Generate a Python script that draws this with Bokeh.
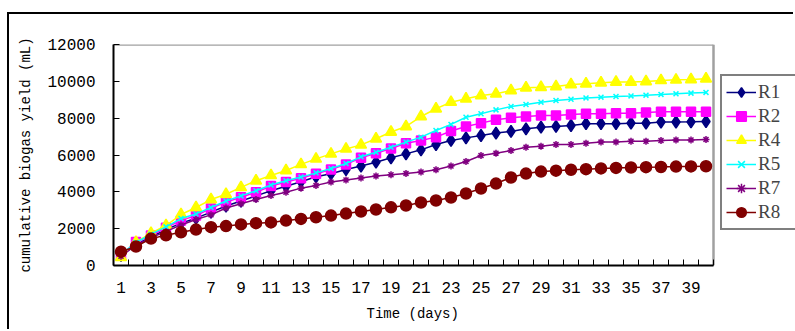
from bokeh.plotting import figure
from bokeh.models import FixedTicker, Legend, LegendItem, Range1d, Title
from bokeh.embed import file_html
from bokeh.resources import INLINE

days = list(range(1, 41))
x_tick_labels = list(range(1, 40, 2))
y_ticks = [0, 2000, 4000, 6000, 8000, 10000, 12000]

R1 = [550, 1150, 1550, 1950, 2300, 2570, 2900, 3230, 3500, 3780, 4060, 4300, 4550, 4820, 4980, 5210, 5400, 5610, 5850, 6060,
      6280, 6570, 6790, 6930, 7060, 7190, 7280, 7420, 7510, 7550, 7600, 7700, 7700, 7700, 7730, 7730, 7790, 7790, 7800, 7820]
R2 = [550, 1270, 1630, 2050, 2450, 2710, 3100, 3440, 3710, 3980, 4310, 4530, 4740, 4980, 5210, 5490, 5850, 6100, 6350, 6640,
      6790, 6970, 7300, 7550, 7730, 7910, 8020, 8090, 8150, 8150, 8200, 8240, 8240, 8270, 8270, 8310, 8350, 8350, 8350, 8350]
R4 = [450, 1270, 1750, 2170, 2770, 3150, 3580, 3870, 4240, 4600, 4890, 5160, 5490, 5790, 6060, 6330, 6550, 6880, 7250, 7550,
      8090, 8510, 8870, 9050, 9230, 9320, 9500, 9650, 9680, 9720, 9830, 9870, 9920, 9960, 9960, 9990, 10050, 10080, 10100, 10140]
R5 = [600, 1250, 1700, 2100, 2550, 2800, 3150, 3500, 3780, 4060, 4370, 4600, 4800, 5030, 5270, 5540, 5900, 6150, 6420, 6700,
      6970, 7330, 7660, 8050, 8240, 8450, 8630, 8740, 8870, 8960, 9030, 9100, 9140, 9180, 9210, 9250, 9290, 9320, 9360, 9400]
R7 = [500, 1100, 1500, 1850, 2200, 2500, 2750, 3120, 3350, 3580, 3800, 3980, 4200, 4350, 4530, 4640, 4750, 4860, 4930, 5000,
      5080, 5200, 5400, 5650, 5970, 6100, 6240, 6420, 6480, 6570, 6570, 6640, 6700, 6700, 6750, 6750, 6790, 6820, 6820, 6840]
R8 = [750, 1030, 1460, 1640, 1800, 1950, 2080, 2140, 2230, 2300, 2340, 2440, 2530, 2620, 2710, 2820, 2930, 3040, 3160, 3260,
      3420, 3530, 3690, 3910, 4180, 4450, 4780, 4990, 5100, 5150, 5200, 5230, 5270, 5300, 5320, 5340, 5350, 5370, 5380, 5390]

series = [
    ("R1", R1, "#000080", "diamond", 12),
    ("R2", R2, "#FF00FF", "square", 9),
    ("R4", R4, "#FFFF00", "triangle", 11),
    ("R5", R5, "#00FFFF", "x", 7),
    ("R7", R7, "#800080", "asterisk", 7),
    ("R8", R8, "#800000", "circle", 11),
]

X_START, X_END = 0.5, 40.5
Y_START, Y_END = 0, 12000
# frame extends to the right edge so the legend (outside the plot box) stays visible
X_VIEW_END = X_START + (795 - 113) / 15.0

p = figure(width=786, height=317, output_backend="svg", toolbar_location=None,
           x_range=Range1d(X_START, X_VIEW_END), y_range=Range1d(Y_START, Y_END),
           min_border_left=104, min_border_right=0, min_border_top=30, min_border_bottom=66)
p.styles = {"border-left": "2px solid black", "border-top": "2px solid black",
            "margin-top": "12px", "margin-left": "7px"}
p.grid.visible = False
p.outline_line_color = None
p.background_fill_color = "white"
p.border_fill_color = "white"

# plot-area box (top and right edges, grey)
p.segment(x0=[X_START, X_END], y0=[Y_END, Y_START], x1=[X_END, X_END], y1=[Y_END, Y_END],
          line_color="#a0a0a0", line_width=2.5)

items = []
for name, vals, col, mk, sz in series:
    r1 = p.line(days, vals, line_color=col, line_width=1.5)
    r2 = p.scatter(days, vals, marker=mk, size=sz, fill_color=col, line_color=col, line_width=1.5)
    items.append(LegendItem(label=name, renderers=[r1, r2]))

mono = "Liberation Mono"
p.xaxis.bounds = (X_START, X_END)
p.xaxis.ticker = FixedTicker(ticks=x_tick_labels, minor_ticks=[d - 0.5 for d in days] + [X_END])
p.xaxis.major_tick_in = 0
p.xaxis.major_tick_out = 0
p.xaxis.minor_tick_in = 6
p.xaxis.minor_tick_out = 0
p.xaxis.minor_tick_line_color = "black"
p.xaxis.major_label_standoff = 16

p.yaxis.ticker = FixedTicker(ticks=y_ticks)
p.yaxis.major_tick_in = 6
p.yaxis.major_tick_out = 0
p.yaxis.minor_tick_line_color = None
p.yaxis.major_label_standoff = 18
p.yaxis.axis_label = "cumulative biogas yield (mL)"
p.yaxis.axis_label_standoff = 10

for ax in (p.xaxis, p.yaxis):
    ax.axis_line_color = "black"
    ax.axis_line_width = 2
    ax.major_tick_line_color = "black"
    ax.major_label_text_font = mono
    ax.major_label_text_font_size = "16px"
    ax.major_label_text_color = "black"
    ax.axis_label_text_font = mono
    ax.axis_label_text_font_size = "14px"
    ax.axis_label_text_font_style = "normal"
    ax.axis_label_text_color = "black"

# x-axis title centred under the plot box (not under the widened frame)
xtitle = Title(text="Time (days)", align="left", offset=253, standoff=17,
               text_font=mono, text_font_size="14px", text_font_style="normal",
               text_color="black")
p.add_layout(xtitle, "below")

legend = Legend(items=items, location=(607, 35), orientation="vertical",
                label_text_font="Liberation Serif", label_text_font_size="19px",
                glyph_width=30, glyph_height=24, label_height=24, label_width=40, spacing=0,
                padding=4, margin=0, label_standoff=2,
                border_line_color="black", border_line_width=2,
                background_fill_color="white", background_fill_alpha=1)
p.add_layout(legend, "center")

open("out.html", "w").write(file_html(p, INLINE))
